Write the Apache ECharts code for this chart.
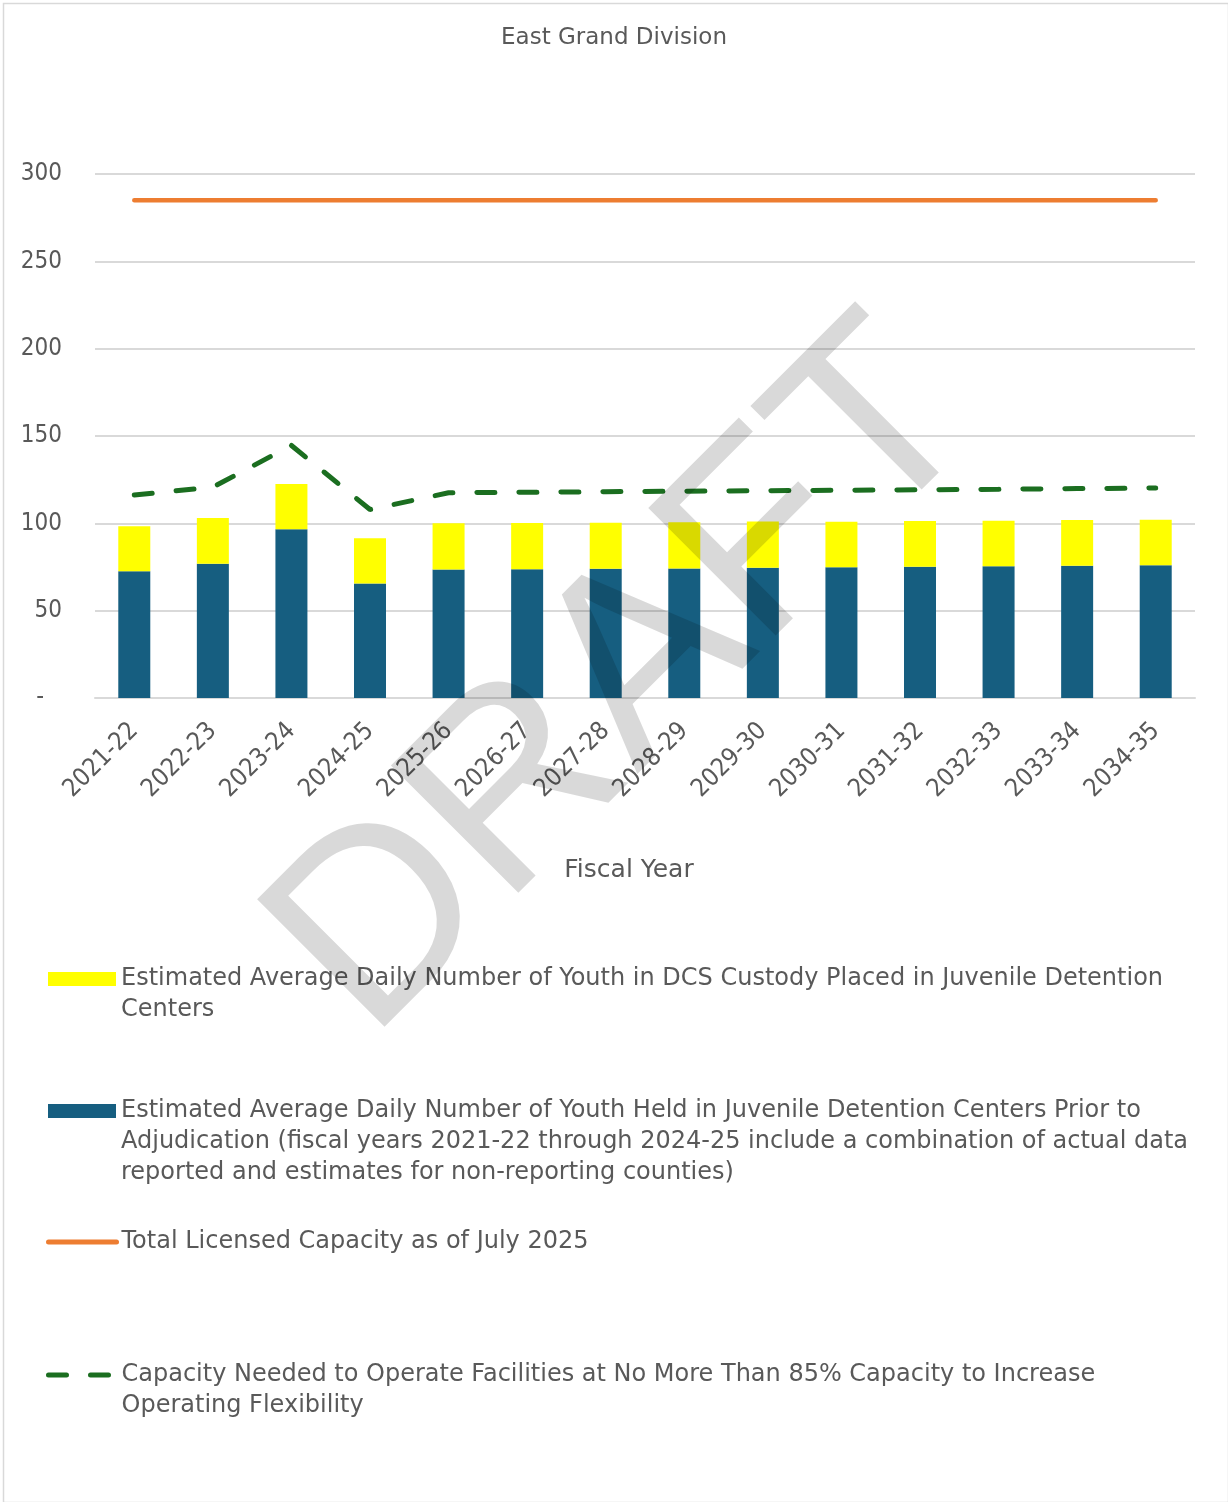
<!DOCTYPE html>
<html>
<head>
<meta charset="utf-8">
<script src="https://cdn.jsdelivr.net/npm/echarts@6/dist/echarts.min.js"></script>
<style>
html,body{margin:0;padding:0;background:#fff;}
#chart{width:1228px;height:1502px;}
</style>
</head>
<body>
<div id="chart"></div>
<script>
const categories = ['2021-22','2022-23','2023-24','2024-25','2025-26','2026-27','2027-28','2028-29','2029-30','2030-31','2031-32','2032-33','2033-34','2034-35'];
const preAdjudication = [72.5, 76.8, 96.6, 65.6, 73.5, 73.7, 74.0, 74.2, 74.6, 74.8, 75.1, 75.4, 75.7, 76.0];
const dcsCustody = [25.8, 26.2, 25.9, 25.9, 26.5, 26.5, 26.4, 26.4, 26.4, 26.1, 26.2, 26.1, 26.2, 26.1];
const licensedCapacity = [285, 285, 285, 285, 285, 285, 285, 285, 285, 285, 285, 285, 285, 285];
const capacityNeeded85 = [116.2, 120.7, 144.6, 107.9, 117.5, 117.8, 118.1, 118.4, 118.7, 118.9, 119.2, 119.5, 119.9, 120.2];
const yTicks = [0, 50, 100, 150, 200, 250, 300];

const nameYellow = 'Estimated Average Daily Number of Youth in DCS Custody Placed in Juvenile Detention\nCenters';
const nameBlue = 'Estimated Average Daily Number of Youth Held in Juvenile Detention Centers Prior to\nAdjudication (fiscal years 2021-22 through 2024-25 include a combination of actual data\nreported and estimates for non-reporting counties)';
const nameOrange = 'Total Licensed Capacity as of July 2025';
const nameGreen = 'Capacity Needed to Operate Facilities at No More Than 85% Capacity to Increase\nOperating Flexibility';

const FONT = '"DejaVu Sans", sans-serif';
const NUMFONT = '"DejaVu Sans Condensed", "DejaVu Sans", sans-serif';
const TXT = '#595959';
const LH = 31;
function legendFor(name, centerY, extra) {
  const lines = name.split('\n').length;
  const H = (2 * lines - 1) * LH;
  return Object.assign({
    data: [name], orient: 'vertical', left: 48, top: centerY - H / 2, padding: 0,
    itemWidth: 68, itemHeight: 14, selectedMode: false,
    formatter: n => '\n'.repeat(lines - 1) + n,
    textStyle: { fontFamily: FONT, fontSize: 24, color: TXT, lineHeight: LH }
  }, extra || {});
}
const hiddenSymbol = { color: 'rgba(0,0,0,0)', borderWidth: 0, opacity: 0 };

const chart = echarts.init(document.getElementById('chart'), null, { renderer: 'canvas' });
chart.setOption({
  backgroundColor: '#fff',
  animation: false,
  title: {
    text: 'East Grand Division', left: 'center', top: 22,
    textStyle: { fontFamily: FONT, fontSize: 23, fontWeight: 'normal', color: TXT }
  },
  grid: { left: 95, right: 33, top: 174, bottom: 804, containLabel: false },
  legend: [
    legendFor(nameYellow, 979, { icon: 'rect' }),
    legendFor(nameBlue, 1111, { icon: 'rect' }),
    legendFor(nameOrange, 1242, { left: 46, itemStyle: hiddenSymbol, lineStyle: { width: 5, cap: 'round', color: '#ED7D31' } }),
    legendFor(nameGreen, 1375, { left: 46, itemStyle: hiddenSymbol, lineStyle: { width: 5, cap: 'round', type: [18, 24], color: '#1B6E20' } })
  ],
  xAxis: {
    type: 'category', data: categories,
    name: 'Fiscal Year', nameLocation: 'middle', nameGap: 160,
    nameTextStyle: { fontFamily: FONT, fontSize: 25, color: TXT, padding: [0, 32, 0, 0] },
    axisLine: { lineStyle: { color: '#d9d9d9', width: 2 } },
    axisTick: { show: false },
    axisLabel: { rotate: 45, margin: 29, fontFamily: NUMFONT, fontSize: 25, color: TXT, interval: 0 }
  },
  yAxis: {
    type: 'value', min: 0, max: 300, interval: 50,
    axisLine: { show: false }, axisTick: { show: false },
    splitLine: { lineStyle: { color: '#d9d9d9', width: 2 } },
    axisLabel: {
      margin: 33, fontFamily: NUMFONT, fontSize: 24, color: TXT,
      formatter: v => v === 0 ? '{z|-}' : String(v),
      rich: { z: { fontFamily: NUMFONT, fontSize: 24, color: TXT, padding: [0, 18, 0, 0] } }
    }
  },
  series: [
    { name: nameBlue, type: 'bar', stack: 'total', data: preAdjudication, barWidth: 32,
      itemStyle: { color: '#165E80' } },
    { name: nameYellow, type: 'bar', stack: 'total', data: dcsCustody, barWidth: 32,
      itemStyle: { color: '#FFFF00' } },
    { name: nameOrange, type: 'line', data: licensedCapacity, symbol: 'none',
      lineStyle: { color: '#ED7D31', width: 4.5, cap: 'round' }, itemStyle: { color: '#ED7D31' } },
    { name: nameGreen, type: 'line', data: capacityNeeded85, symbol: 'none',
      lineStyle: { color: '#1B6E20', width: 5, type: [18, 24], cap: 'round' }, itemStyle: { color: '#1B6E20' } }
  ],
  graphic: [
    { type: 'rect', left: 1, top: 1, z: 0, silent: true,
      shape: { width: 1225, height: 1499 }, style: { fill: 'none', stroke: '#d9d9d9', lineWidth: 1.5 } },
    { type: 'text', x: 627, y: 682, rotation: Math.PI / 4, z: 100, silent: true,
      style: { text: 'DRAFT', font: 'normal 262px "Liberation Sans", Arial, sans-serif',
        fill: 'rgba(0,0,0,0.15)', align: 'center', verticalAlign: 'middle' } }
  ]
});
</script>
</body>
</html>
